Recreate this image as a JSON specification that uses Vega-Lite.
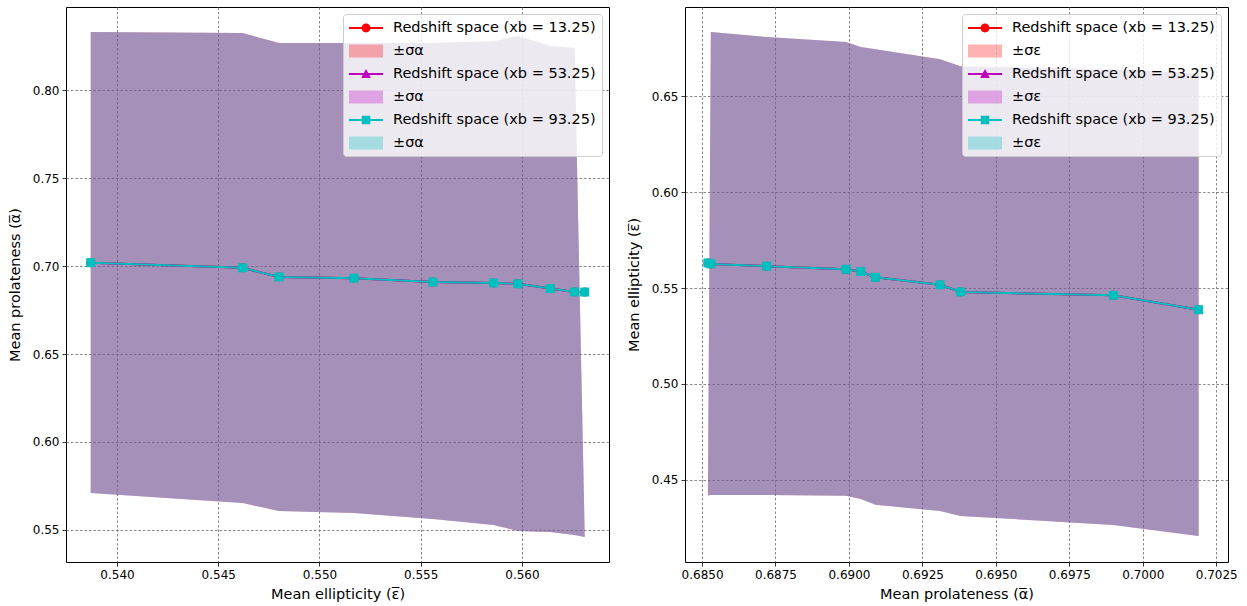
{
  "$schema": "https://vega.github.io/schema/vega-lite/v6.json",
  "background": "white",
  "padding": {"left": 6, "top": 6, "right": 4, "bottom": 5},
  "autosize": {"type": "pad"},
  "datasets": {
    "pts": [
      {"s": "1", "line": "l1", "band": "a1", "e": 0.5387, "a": 0.7019, "alo": 0.5710, "ahi": 0.8330, "elo": 0.4207, "ehi": 0.6620},
      {"s": "1", "line": "l1", "band": "a1", "e": 0.5462, "a": 0.6990, "alo": 0.5653, "ahi": 0.8324, "elo": 0.4264, "ehi": 0.6640},
      {"s": "1", "line": "l1", "band": "a1", "e": 0.5480, "a": 0.6938, "alo": 0.5608, "ahi": 0.8267, "elo": 0.4311, "ehi": 0.6657},
      {"s": "1", "line": "l1", "band": "a1", "e": 0.5517, "a": 0.6931, "alo": 0.5597, "ahi": 0.8267, "elo": 0.4337, "ehi": 0.6694},
      {"s": "1", "line": "l1", "band": "a1", "e": 0.5556, "a": 0.6909, "alo": 0.5563, "ahi": 0.8267, "elo": 0.4369, "ehi": 0.6746},
      {"s": "1", "line": "l1", "band": "a1", "e": 0.5586, "a": 0.6904, "alo": 0.5528, "ahi": 0.8278, "elo": 0.4400, "ehi": 0.6757},
      {"s": "1", "line": "l1", "band": "a1", "e": 0.5598, "a": 0.6899, "alo": 0.5494, "ahi": 0.8307, "elo": 0.4416, "ehi": 0.6783},
      {"s": "1", "line": "l1", "band": "a1", "e": 0.5614, "a": 0.6872, "alo": 0.5489, "ahi": 0.8250, "elo": 0.4421, "ehi": 0.6809},
      {"s": "1", "line": "l1", "band": "a1", "e": 0.5626, "a": 0.6853, "alo": 0.5472, "ahi": 0.8239, "elo": 0.4421, "ehi": 0.6835},
      {"s": "1", "line": "l1", "band": "a1", "e": 0.5631, "a": 0.6852, "alo": 0.5460, "ahi": 0.5475, "elo": 0.4418, "ehi": 0.4428},
      {"s": "2", "line": "l2", "band": "a2", "e": 0.5387, "a": 0.7019, "alo": 0.5710, "ahi": 0.8330, "elo": 0.4207, "ehi": 0.6620},
      {"s": "2", "line": "l2", "band": "a2", "e": 0.5462, "a": 0.6990, "alo": 0.5653, "ahi": 0.8324, "elo": 0.4264, "ehi": 0.6640},
      {"s": "2", "line": "l2", "band": "a2", "e": 0.5480, "a": 0.6938, "alo": 0.5608, "ahi": 0.8267, "elo": 0.4311, "ehi": 0.6657},
      {"s": "2", "line": "l2", "band": "a2", "e": 0.5517, "a": 0.6931, "alo": 0.5597, "ahi": 0.8267, "elo": 0.4337, "ehi": 0.6694},
      {"s": "2", "line": "l2", "band": "a2", "e": 0.5556, "a": 0.6909, "alo": 0.5563, "ahi": 0.8267, "elo": 0.4369, "ehi": 0.6746},
      {"s": "2", "line": "l2", "band": "a2", "e": 0.5586, "a": 0.6904, "alo": 0.5528, "ahi": 0.8278, "elo": 0.4400, "ehi": 0.6757},
      {"s": "2", "line": "l2", "band": "a2", "e": 0.5598, "a": 0.6899, "alo": 0.5494, "ahi": 0.8307, "elo": 0.4416, "ehi": 0.6783},
      {"s": "2", "line": "l2", "band": "a2", "e": 0.5614, "a": 0.6872, "alo": 0.5489, "ahi": 0.8250, "elo": 0.4421, "ehi": 0.6809},
      {"s": "2", "line": "l2", "band": "a2", "e": 0.5626, "a": 0.6853, "alo": 0.5472, "ahi": 0.8239, "elo": 0.4421, "ehi": 0.6835},
      {"s": "2", "line": "l2", "band": "a2", "e": 0.5631, "a": 0.6852, "alo": 0.5460, "ahi": 0.5475, "elo": 0.4418, "ehi": 0.4428},
      {"s": "3", "line": "l3", "band": "a3", "e": 0.5387, "a": 0.7019, "alo": 0.5710, "ahi": 0.8330, "elo": 0.4207, "ehi": 0.6620},
      {"s": "3", "line": "l3", "band": "a3", "e": 0.5462, "a": 0.6990, "alo": 0.5653, "ahi": 0.8324, "elo": 0.4264, "ehi": 0.6640},
      {"s": "3", "line": "l3", "band": "a3", "e": 0.5480, "a": 0.6938, "alo": 0.5608, "ahi": 0.8267, "elo": 0.4311, "ehi": 0.6657},
      {"s": "3", "line": "l3", "band": "a3", "e": 0.5517, "a": 0.6931, "alo": 0.5597, "ahi": 0.8267, "elo": 0.4337, "ehi": 0.6694},
      {"s": "3", "line": "l3", "band": "a3", "e": 0.5556, "a": 0.6909, "alo": 0.5563, "ahi": 0.8267, "elo": 0.4369, "ehi": 0.6746},
      {"s": "3", "line": "l3", "band": "a3", "e": 0.5586, "a": 0.6904, "alo": 0.5528, "ahi": 0.8278, "elo": 0.4400, "ehi": 0.6757},
      {"s": "3", "line": "l3", "band": "a3", "e": 0.5598, "a": 0.6899, "alo": 0.5494, "ahi": 0.8307, "elo": 0.4416, "ehi": 0.6783},
      {"s": "3", "line": "l3", "band": "a3", "e": 0.5614, "a": 0.6872, "alo": 0.5489, "ahi": 0.8250, "elo": 0.4421, "ehi": 0.6809},
      {"s": "3", "line": "l3", "band": "a3", "e": 0.5626, "a": 0.6853, "alo": 0.5472, "ahi": 0.8239, "elo": 0.4421, "ehi": 0.6835},
      {"s": "3", "line": "l3", "band": "a3", "e": 0.5631, "a": 0.6852, "alo": 0.5460, "ahi": 0.5475, "elo": 0.4418, "ehi": 0.4428}
    ]
  },
  "spacing": 76,
  "bounds": "flush",
  "resolve": {"scale": {"color": "independent", "shape": "independent", "x": "independent", "y": "independent"}, "legend": {"color": "independent"}},
  "hconcat": [
    {
      "width": 543,
      "height": 555,
      "data": {"name": "pts"},
      "layer": [
        {
          "mark": {"type": "area", "opacity": 1},
          "encoding": {
            "x": {"field": "e", "type": "quantitative", "title": "Mean ellipticity (ε̅)", "scale": {"domain": [0.53748, 0.5643], "nice": false, "zero": false}, "axis": {"values": [0.540, 0.545, 0.550, 0.555, 0.560], "format": ".3f"}},
            "y": {"field": "alo", "type": "quantitative", "stack": null, "title": "Mean prolateness (α̅)", "scale": {"domain": [0.5318, 0.8472], "nice": false, "zero": false}, "axis": {"values": [0.55, 0.60, 0.65, 0.70, 0.75, 0.80], "format": ".2f"}},
            "y2": {"field": "ahi"},
            "color": {
              "field": "band", "type": "nominal",
              "scale": {"domain": ["l1", "a1", "l2", "a2", "l3", "a3"], "range": ["#ff0000", "rgba(255,0,0,0.3)", "#bf00bf", "rgba(191,0,191,0.3)", "#00bfbf", "rgba(0,191,191,0.3)"]},
              "legend": {
                "title": null, "orient": "top-right", "offset": 7,
                "labelExpr": "datum.value==='l1' ? 'Redshift space (xb = 13.25)' : datum.value==='l2' ? 'Redshift space (xb = 53.25)' : datum.value==='l3' ? 'Redshift space (xb = 93.25)' : '±σα'",
                "symbolType": {"expr": "datum.value==='l1' ? 'M-2.125,-0.125H2.125V0.125H-2.125ZM-0.56,0A0.56,0.56 0 1,1 0.56,0A0.56,0.56 0 1,1 -0.56,0Z' : datum.value==='l2' ? 'M-2.125,-0.125H2.125V0.125H-2.125ZM0,-0.62L0.6,0.5L-0.6,0.5Z' : datum.value==='l3' ? 'M-2.125,-0.125H2.125V0.125H-2.125ZM-0.53,-0.53H0.53V0.53H-0.53Z' : 'M-2.125,-0.8H2.125V0.8H-2.125Z'"},
                "symbolFillColor": {"expr": "datum.value==='l1' ? '#ff0000' : datum.value==='a1' ? 'rgba(255,0,0,0.3)' : datum.value==='l2' ? '#bf00bf' : datum.value==='a2' ? 'rgba(191,0,191,0.3)' : datum.value==='l3' ? '#00bfbf' : 'rgba(0,191,191,0.3)'"},
                "encode": {"symbols": {
                  "shape": {"value": {"expr": "datum.value==='l1' ? 'M-2.125,-0.125H2.125V0.125H-2.125ZM-0.56,0A0.56,0.56 0 1,1 0.56,0A0.56,0.56 0 1,1 -0.56,0Z' : datum.value==='l2' ? 'M-2.125,-0.125H2.125V0.125H-2.125ZM0,-0.62L0.6,0.5L-0.6,0.5Z' : datum.value==='l3' ? 'M-2.125,-0.125H2.125V0.125H-2.125ZM-0.53,-0.53H0.53V0.53H-0.53Z' : 'M-2.125,-0.8H2.125V0.8H-2.125Z'"}},
                  "fill": {"value": {"expr": "datum.value==='l1' ? '#ff0000' : datum.value==='a1' ? 'rgba(255,0,0,0.3)' : datum.value==='l2' ? '#bf00bf' : datum.value==='a2' ? 'rgba(191,0,191,0.3)' : datum.value==='l3' ? '#00bfbf' : 'rgba(0,191,191,0.3)'"}},
                  "strokeWidth": {"value": 0},
                  "opacity": {"value": 1}
                }}
              }
            }
          }
        },
        {
          "mark": {"type": "line", "strokeWidth": 2},
          "encoding": {
            "x": {"field": "e", "type": "quantitative"},
            "y": {"field": "a", "type": "quantitative"},
            "color": {"field": "line", "type": "nominal", "legend": null}
          }
        },
        {
          "mark": {"type": "point", "filled": true, "size": 81, "opacity": 1},
          "encoding": {
            "x": {"field": "e", "type": "quantitative"},
            "y": {"field": "a", "type": "quantitative"},
            "color": {"field": "line", "type": "nominal", "legend": null},
            "shape": {"field": "s", "type": "nominal", "scale": {"domain": ["1", "2", "3"], "range": ["circle", "triangle-up", "square"]}, "legend": null}
          }
        }
      ]
    },
    {
      "width": 543,
      "height": 555,
      "data": {"name": "pts"},
      "layer": [
        {
          "mark": {"type": "area", "opacity": 1},
          "encoding": {
            "x": {"field": "a", "type": "quantitative", "title": "Mean prolateness (α̅)", "scale": {"domain": [0.68442, 0.7029], "nice": false, "zero": false}, "axis": {"values": [0.6850, 0.6875, 0.6900, 0.6925, 0.6950, 0.6975, 0.7000, 0.7025], "format": ".4f"}},
            "y": {"field": "elo", "type": "quantitative", "stack": null, "title": "Mean ellipticity (ε̅)", "scale": {"domain": [0.4071, 0.6966], "nice": false, "zero": false}, "axis": {"values": [0.45, 0.50, 0.55, 0.60, 0.65], "format": ".2f"}},
            "y2": {"field": "ehi"},
            "color": {
              "field": "band", "type": "nominal",
              "scale": {"domain": ["l1", "a1", "l2", "a2", "l3", "a3"], "range": ["#ff0000", "rgba(255,0,0,0.3)", "#bf00bf", "rgba(191,0,191,0.3)", "#00bfbf", "rgba(0,191,191,0.3)"]},
              "legend": {
                "title": null, "orient": "top-right", "offset": 7,
                "labelExpr": "datum.value==='l1' ? 'Redshift space (xb = 13.25)' : datum.value==='l2' ? 'Redshift space (xb = 53.25)' : datum.value==='l3' ? 'Redshift space (xb = 93.25)' : '±σε'",
                "symbolType": {"expr": "datum.value==='l1' ? 'M-2.125,-0.125H2.125V0.125H-2.125ZM-0.56,0A0.56,0.56 0 1,1 0.56,0A0.56,0.56 0 1,1 -0.56,0Z' : datum.value==='l2' ? 'M-2.125,-0.125H2.125V0.125H-2.125ZM0,-0.62L0.6,0.5L-0.6,0.5Z' : datum.value==='l3' ? 'M-2.125,-0.125H2.125V0.125H-2.125ZM-0.53,-0.53H0.53V0.53H-0.53Z' : 'M-2.125,-0.8H2.125V0.8H-2.125Z'"},
                "symbolFillColor": {"expr": "datum.value==='l1' ? '#ff0000' : datum.value==='a1' ? 'rgba(255,0,0,0.3)' : datum.value==='l2' ? '#bf00bf' : datum.value==='a2' ? 'rgba(191,0,191,0.3)' : datum.value==='l3' ? '#00bfbf' : 'rgba(0,191,191,0.3)'"},
                "encode": {"symbols": {
                  "shape": {"value": {"expr": "datum.value==='l1' ? 'M-2.125,-0.125H2.125V0.125H-2.125ZM-0.56,0A0.56,0.56 0 1,1 0.56,0A0.56,0.56 0 1,1 -0.56,0Z' : datum.value==='l2' ? 'M-2.125,-0.125H2.125V0.125H-2.125ZM0,-0.62L0.6,0.5L-0.6,0.5Z' : datum.value==='l3' ? 'M-2.125,-0.125H2.125V0.125H-2.125ZM-0.53,-0.53H0.53V0.53H-0.53Z' : 'M-2.125,-0.8H2.125V0.8H-2.125Z'"}},
                  "fill": {"value": {"expr": "datum.value==='l1' ? '#ff0000' : datum.value==='a1' ? 'rgba(255,0,0,0.3)' : datum.value==='l2' ? '#bf00bf' : datum.value==='a2' ? 'rgba(191,0,191,0.3)' : datum.value==='l3' ? '#00bfbf' : 'rgba(0,191,191,0.3)'"}},
                  "strokeWidth": {"value": 0},
                  "opacity": {"value": 1}
                }}
              }
            }
          }
        },
        {
          "mark": {"type": "line", "strokeWidth": 2},
          "encoding": {
            "x": {"field": "a", "type": "quantitative"},
            "y": {"field": "e", "type": "quantitative"},
            "color": {"field": "line", "type": "nominal", "legend": null}
          }
        },
        {
          "mark": {"type": "point", "filled": true, "size": 81, "opacity": 1},
          "encoding": {
            "x": {"field": "a", "type": "quantitative"},
            "y": {"field": "e", "type": "quantitative"},
            "color": {"field": "line", "type": "nominal", "legend": null},
            "shape": {"field": "s", "type": "nominal", "scale": {"domain": ["1", "2", "3"], "range": ["circle", "triangle-up", "square"]}, "legend": null}
          }
        }
      ]
    }
  ],
  "config": {
    "font": "DejaVu Sans",
    "view": {"stroke": "#000000", "strokeWidth": 1},
    "axis": {
      "grid": true, "gridColor": "#7a7a7a", "gridDash": [2.5, 2], "gridWidth": 0.9,
      "domain": false,
      "tickColor": "#000000", "tickSize": 4, "tickWidth": 0.8,
      "labelFont": "DejaVu Sans", "labelFontSize": 12, "labelColor": "#000000", "labelPadding": 3,
      "titleFont": "DejaVu Sans", "titleFontSize": 14.5, "titleFontWeight": "normal", "titleColor": "#000000"
    },
    "axisX": {"titlePadding": 7},
    "axisY": {"titlePadding": 10},
    "legend": {
      "fillColor": "rgba(255,255,255,0.8)", "strokeColor": "#cccccc", "cornerRadius": 3, "padding": 6,
      "labelFont": "DejaVu Sans", "labelFontSize": 14.5, "labelColor": "#000000", "labelLimit": 0, "labelOffset": 19,
      "symbolSize": 256, "symbolOffset": 9, "rowPadding": 8, "symbolStrokeWidth": 0
    }
  }
}
